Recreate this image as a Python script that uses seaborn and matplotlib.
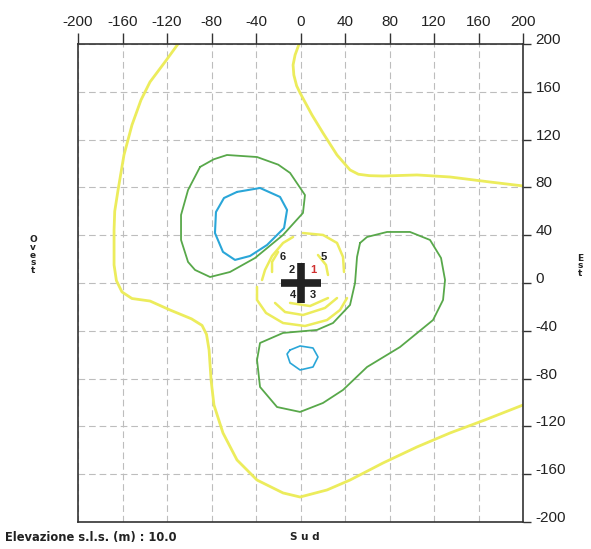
import seaborn as sns
import matplotlib.pyplot as plt

# contour lines (metres, x = est, y = nord)
yellow_west = [(-110.1, 200), (-121.8, 185.0), (-135.3, 168.2), (-143.4, 153.1), (-151.5, 132.2),
               (-158.7, 107.1), (-164.0, 77.8), (-167.0, 60.0), (-167.6, 44.4), (-167.6, 15.1),
               (-165.5, 2.0), (-160.5, -7.5), (-151.5, -13.0), (-135.3, -15.1), (-117.3, -22.6),
               (-98.0, -30.0), (-88.5, -35.5), (-84.5, -43.0), (-82.2, -56.1), (-80.4, -81.2),
               (-77.8, -102.1), (-69.7, -125.5), (-57.1, -148.1), (-39.1, -164.9), (-15.7, -175.7),
               (-0.4, -179.1), (23.8, -173.2), (44.5, -164.9), (74.2, -150.6), (104.7, -137.2),
               (134.4, -125.5), (165.8, -114.6), (200, -102.1)]
yellow_north = [(-1.3, 200), (-4.9, 190.8), (-6.7, 182.4), (-6.0, 174.0), (-3.5, 165.0),
                (-0.4, 159.0), (10.3, 140.6), (20.2, 125.5), (32.8, 107.1), (44.5, 94.6),
                (52.0, 91.0), (62.0, 89.8), (74.2, 89.5), (104.7, 90.4), (134.4, 88.7),
                (170.3, 84.5), (200, 81.2)]
yellow_centre = [
    [(2.2, 41.8), (20.2, 40.2), (32.8, 33.5), (38.2, 21.8), (39.1, 9.2)],
    [(-6.7, 38.5), (-15.7, 33.5), (-25.6, 22.6), (-31.9, 10.9), (-34.6, 2.5)],
    [(-39.1, -3.3), (-39.1, -14.2), (-31.0, -25.1), (-15.7, -33.5), (4.0, -36.0),
     (23.8, -31.0), (35.5, -22.6), (41.8, -12.6)],
    [(-22.9, -16.7), (-13.9, -24.3), (2.2, -26.8), (22.0, -20.9), (32.8, -12.6)],
    [(-9.4, -16.7), (8.5, -19.3), (24.7, -12.6)],
    [(-20.2, 26.0), (-25.6, 17.6), (-25.6, 9.2)],
    [(15.7, 23.4), (22.9, 15.1), (24.7, 6.7)],
]
green_west = [(-90.3, 97.1), (-78.0, 103.5), (-66.1, 107.1), (-39.1, 105.4), (-20.0, 99.0),
              (-9.4, 92.1), (4.0, 73.6), (2.2, 58.6), (-15.7, 40.2), (-40.9, 20.9),
              (-63.4, 9.2), (-81.3, 5.0), (-94.8, 10.9), (-101.1, 17.6), (-107.4, 36.0),
              (-107.4, 56.9), (-101.1, 77.8)]
green_east = [(53.5, 33.5), (59.8, 38.5), (77.8, 42.7), (98.4, 42.7), (116.4, 36.0),
              (126.3, 20.9), (129.9, 2.5), (128.1, -14.2), (119.1, -31.0), (89.4, -53.6),
              (59.8, -70.3), (38.2, -89.5), (20.2, -100.4), (-0.4, -107.9), (-21.1, -103.8),
              (-36.4, -87.0), (-39.1, -64.4), (-36.4, -50.2), (-15.7, -41.8), (14.8, -39.3),
              (29.2, -33.5), (44.5, -18.4), (49.0, 0.0), (50.8, 21.8)]
cyan_west = [(-57.1, 76.2), (-36.4, 79.5), (-18.4, 72.0), (-12.1, 61.1), (-14.8, 46.0),
             (-30.1, 31.8), (-45.4, 22.6), (-58.9, 19.3), (-69.7, 26.0), (-76.9, 41.8),
             (-76.0, 59.4), (-68.8, 71.1)]
cyan_south = [(-9.4, -56.1), (-0.4, -52.7), (11.2, -54.4), (15.7, -61.9), (11.2, -70.3),
              (-0.4, -72.8), (-9.4, -66.9), (-12.1, -59.4)]

source_names = ["1", "2", "3", "4", "5", "6"]
source_x = [11.2, -7.6, 11.2, -6.7, 21.1, -15.7]
source_y = [10.9, 10.9, -10.0, -10.0, 21.8, 21.8]

ticks = [-200, -160, -120, -80, -40, 0, 40, 80, 120, 160, 200]

YELLOW = "#ecec5c"
GREEN = "#58a84a"
CYAN = "#2aa6d8"

sns.set_style("white")
plt.rcParams["font.family"] = ["Liberation Sans", "DejaVu Sans"]
plt.rcParams["axes.unicode_minus"] = False

fig = plt.figure(figsize=(5.91, 5.49), dpi=100)
ax = fig.add_axes([0.132, 0.0492, 0.753, 0.8707])


def draw(points, color, lw, closed=False):
    pts = list(points) + ([points[0]] if closed else [])
    xs = [p[0] for p in pts]
    ys = [p[1] for p in pts]
    sns.lineplot(x=xs, y=ys, sort=False, estimator=None, color=color,
                 linewidth=lw, ax=ax, legend=False, solid_joinstyle="round",
                 solid_capstyle="round")


draw(yellow_west, YELLOW, 2.0)
draw(yellow_north, YELLOW, 2.0)
for arc in yellow_centre:
    draw(arc, YELLOW, 1.8)
draw(green_west, GREEN, 1.3, closed=True)
draw(green_east, GREEN, 1.3, closed=True)
draw(cyan_west, CYAN, 1.5, closed=True)
draw(cyan_south, CYAN, 1.2, closed=True)

# source marker and numbers
ax.plot([0], [0], marker="+", ms=29, mew=5.5, color="#222222", zorder=5)
for name, sx, sy in zip(source_names, source_x, source_y):
    ax.text(sx, sy, name, ha="center", va="center", fontsize=8, fontweight="bold",
            color="#d03030" if name == "1" else "#222222", zorder=6)

ax.set_xlim(-200, 200)
ax.set_ylim(-200, 200)
ax.set_xticks(ticks)
ax.set_yticks(ticks)
ax.grid(True, color="#bdbdbd", linestyle=(0, (6, 3.5)), linewidth=0.8)
ax.set_axisbelow(True)

ax.xaxis.tick_top()
ax.yaxis.tick_right()
ax.tick_params(axis="x", direction="out", length=8, width=1, color="#333333",
               labelsize=11, pad=3, labelcolor="#222222")
ax.tick_params(axis="y", direction="out", length=6, width=1, color="#333333",
               labelsize=11, pad=3, labelcolor="#222222")
for lab in ax.get_yticklabels():
    lab.set_verticalalignment("baseline")
for sp in ax.spines.values():
    sp.set_color("#333333")
    sp.set_linewidth(1.2)

fig.text(5 / 591, 1 - 537 / 549, "Elevazione s.l.s. (m) : 10.0", fontsize=8.3,
         fontweight="bold", family="DejaVu Sans", va="center", color="#222222")
fig.text(305 / 591, 1 - 537 / 549, "S u d", fontsize=7.5, fontweight="bold",
         family="DejaVu Sans", va="center", ha="center", color="#222222")
fig.text(33 / 591, 1 - 255 / 549, "\n".join("Ovest"), fontsize=6.5, fontweight="bold",
         family="DejaVu Sans", va="center", ha="center", linespacing=0.85, color="#222222")
fig.text(580 / 591, 1 - 266 / 549, "\n".join("Est"), fontsize=6.5, fontweight="bold",
         family="DejaVu Sans", va="center", ha="center", linespacing=0.85, color="#222222")

fig.savefig("out.png", dpi=100)
